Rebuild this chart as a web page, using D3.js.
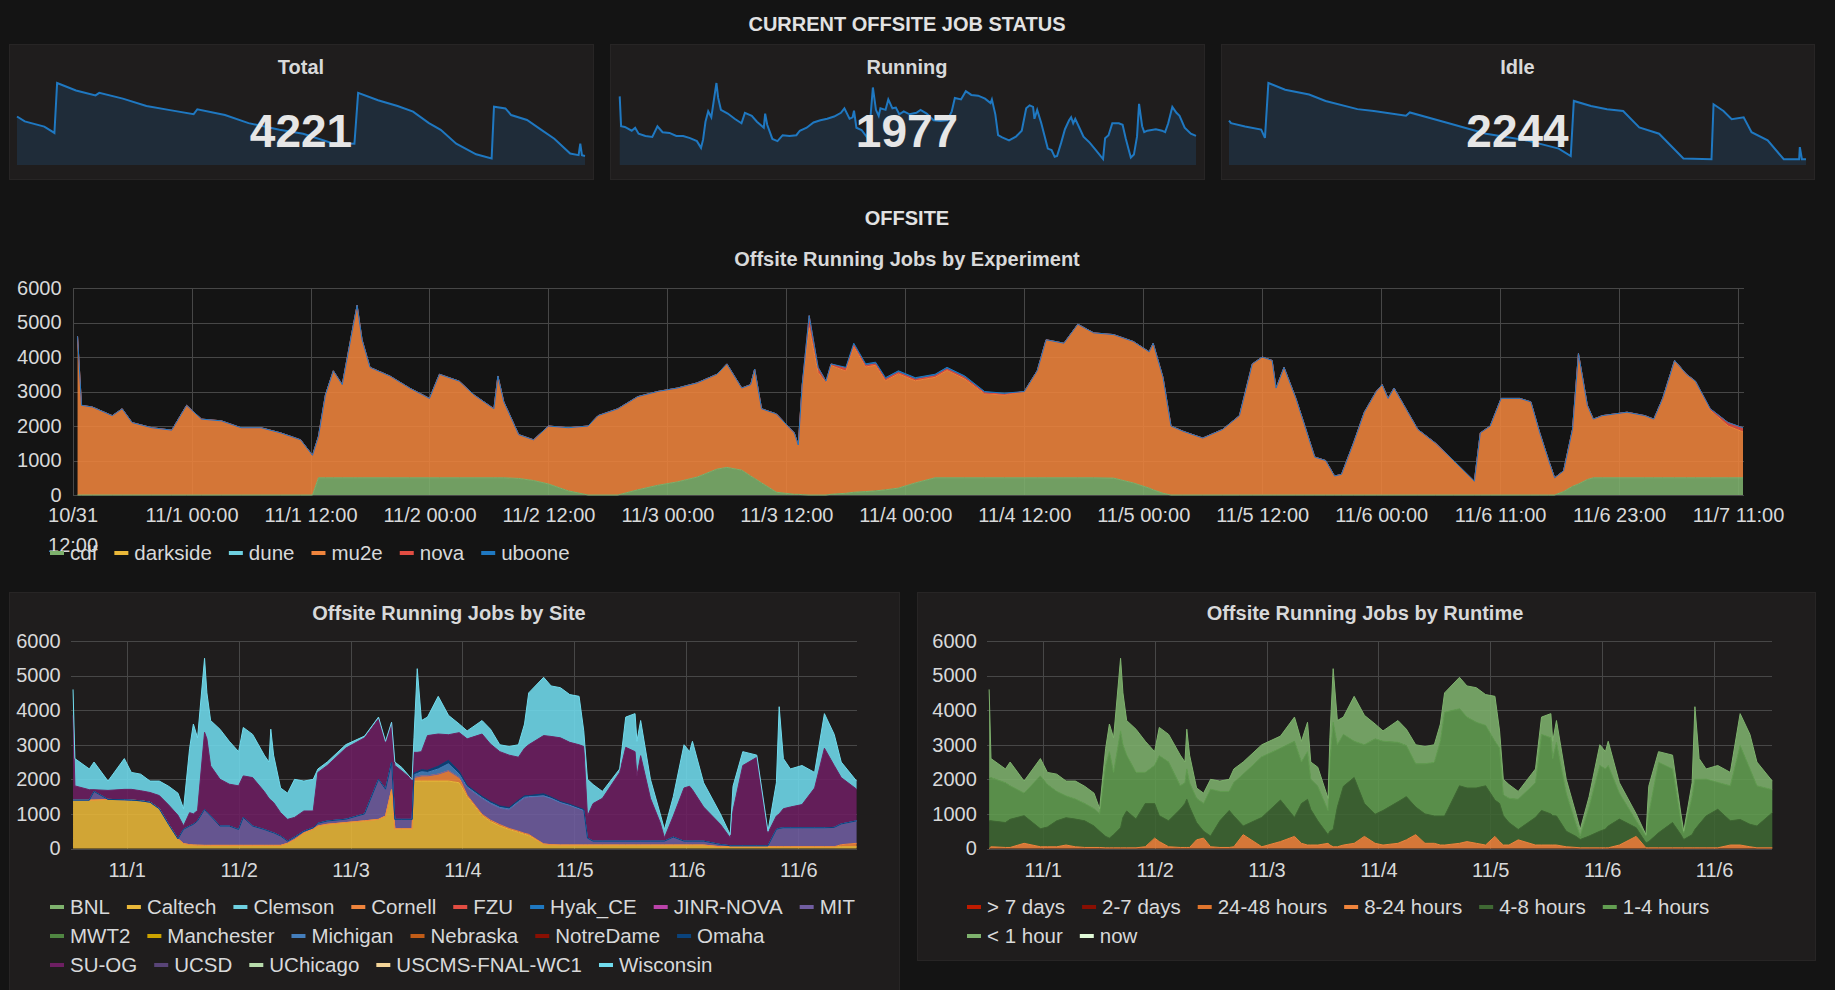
<!DOCTYPE html>
<html>
<head>
<meta charset="utf-8">
<script src="https://cdn.jsdelivr.net/npm/d3@7/dist/d3.min.js"></script>
<style>
html,body{margin:0;padding:0;background:#141414;overflow:hidden}
svg{display:block}
</style>
</head>
<body>
<svg id="chart" width="1835" height="990"></svg>
<script>
// ================= DATA =================
const statNames = ["Total", "Running", "Idle"];
const statValues = [4221, 1977, 2244];

const sparkTotalHours = [0,2.3,8.1,11.1,11.9,17.5,23.3,24.4,31.4,38.4,45.4,52.4,53.5,61.7,68.7,77.9,84.9,93.1,100.1,101.2,107.1,112.9,117.5,122.2,125.7,130.3,136.2,140.8,141.5,144.9,146.6,151.3,154.8,159.4,164.1,166.6,167.1,167.6,168.5];
const sparkTotal = [22700,20400,18000,15000,38400,34900,32600,33800,31100,27600,25700,23800,26100,23400,19600,16500,14600,10400,10000,33800,30300,27600,25000,19600,16500,10000,5000,3100,27300,26500,23400,21100,17300,12300,5400,4600,10000,4600,4221];
const sparkIdleHours = [0,0.6,4.7,9.4,10.5,11.5,16.4,23.4,28.2,37.5,42.3,51.7,52.8,63.4,75.1,86.9,96.3,99.8,100.7,105.7,110.4,115.1,119.8,125.6,132.7,140.9,141.5,144.4,146.8,150.3,152.6,157.3,162,166.5,166.7,167.3,168.5];
const sparkIdle = [17300,16300,15000,13800,10600,32000,29400,27500,25000,21800,21100,19200,20500,16600,12200,9600,6400,3500,25000,23000,21800,21100,14700,12200,2560,2250,23700,21100,17900,18600,12800,9600,2250,2250,7000,2250,2244];

const expTickHours = [0,12,24,36,48,60,72,84,96,108,120,132,144,156,168];
const expTickLabels = ["10/31 12:00","11/1 00:00","11/1 12:00","11/2 00:00","11/2 12:00","11/3 00:00","11/3 12:00","11/4 00:00","11/4 12:00","11/5 00:00","11/5 12:00","11/6 00:00","11/6 11:00","11/6 23:00","11/7 11:00"];
const bottomTickHours = [12,36,60,84,108,132,156];
const bottomTickLabels = ["11/1","11/2","11/3","11/4","11/5","11/6","11/6"];
const yTickValues = [0,1000,2000,3000,4000,5000,6000];

const experiments = ["cdf","darkside","dune","mu2e","nova","uboone"];
const expHours = [0.5,0.9,2,4,5,6,8,10,11.5,13,
 15,17,19,21,23,24.2,24.8,25.5,26.3,27.2,
 28.3,28.7,29.2,30,32,34,36,37,39,40.5,
 41.5,42.5,42.9,43.5,45,46.5,48,50,52,53,
 55,57,59,61,63,65,66,67.5,68.4,68.8,
 69.5,71,72.8,73.2,73.6,74.3,75.2,76,76.5,78,
 78.8,80,81,82,83.3,85,87,88.2,90,92,
 94,96,97.3,98.2,100,101.4,103,105,107,108.6,
 109,110,110.8,112,114,116,117.7,119,120,121,
 121.4,122.2,123.4,124.3,125.3,126.4,127.3,128,129.2,130.3,
 131.5,132.1,132.7,133.3,134.5,135.7,137.5,139.3,141.4,142,
 143,144.1,146,147.1,148,148.9,149.5,150.4,151.3,151.9,
 152.8,153.4,154.3,156.8,158.6,159.5,160.4,161.6,162.8,163.7,
 165.2,167,168.5];
const expCdf = [0,0,0,0,0,0,0,0,0,0,
 0,0,0,0,0,0,500,500,500,500,
 500,500,500,500,500,500,500,500,500,500,
 500,500,500,500,480,420,320,120,0,0,
 0,150,280,380,520,750,800,720,550,480,
 350,80,20,20,10,0,0,0,20,50,
 80,100,120,150,200,350,500,500,500,500,
 500,500,500,500,500,500,500,490,350,200,
 150,50,0,0,0,0,0,0,0,0,
 0,0,0,0,0,0,0,0,0,0,
 0,0,0,0,0,0,0,0,0,0,
 0,0,0,0,0,0,0,100,250,320,
 450,500,500,500,500,500,500,500,500,500,
 500,500,500];
const expMu2e = [4600,2600,2550,2300,2500,2100,1950,1880,2600,2200,
 2150,1950,1950,1800,1600,1150,1200,2400,3100,2700,
 4400,5000,4000,3200,2950,2600,2300,3000,2800,2400,
 2200,2000,2950,2200,1270,1180,1680,1830,2000,2300,
 2500,2700,2720,2720,2730,2750,3000,2380,2650,3170,
 2150,2270,1780,1430,3190,4850,3550,3250,3730,3540,
 4220,3610,3640,3160,3310,2960,2910,3110,2860,2430,
 2400,2500,3100,4000,3900,4450,4200,4160,4100,3950,
 4250,3350,2000,1850,1650,1900,2300,3800,4000,3900,
 3100,3700,2800,2000,1100,1000,550,600,1500,2400,
 3000,3200,2800,3100,2500,1900,1500,1000,400,1800,
 2000,2800,2800,2700,1800,1000,500,600,1650,3780,
 2150,1700,1800,1900,1800,1700,2300,3400,3000,2800,
 1950,1500,1330];
const expNova = [0,0,0,0,0,0,0,0,0,0,
 0,0,0,0,0,0,0,0,0,0,
 0,0,0,0,0,0,0,0,0,0,
 0,0,0,0,0,0,0,0,0,0,
 0,0,0,0,0,0,0,0,0,0,
 0,0,0,0,0,350,150,50,50,80,
 50,40,40,40,40,40,40,40,40,30,
 20,0,0,0,0,0,0,0,0,0,
 0,0,0,0,0,0,0,0,0,0,
 0,0,0,0,0,0,0,0,0,0,
 0,0,0,0,0,0,0,0,0,0,
 0,0,0,0,0,0,0,0,0,0,
 0,0,0,0,0,0,0,0,0,0,
 50,100,120];
const expUboone = [0,0,0,0,0,0,0,0,0,0,
 0,0,0,0,0,0,0,0,0,0,
 0,0,0,0,0,0,0,0,0,0,
 0,0,0,0,0,0,0,0,0,0,
 0,0,0,0,0,0,0,0,0,0,
 0,0,0,0,0,0,0,0,0,30,
 50,50,50,50,50,50,50,50,50,40,
 30,0,0,0,0,0,0,0,0,0,
 0,0,0,0,0,0,0,0,0,0,
 0,0,0,0,0,0,0,0,0,0,
 0,0,0,0,0,0,0,0,0,0,
 0,0,0,0,0,0,0,0,0,0,
 0,0,0,0,0,0,0,0,0,0,
 0,0,0];

const sites = ["BNL","Caltech","Clemson","Cornell","FZU","Hyak_CE","JINR-NOVA","MIT","MWT2","Manchester","Michigan","Nebraska","NotreDame","Omaha","SU-OG","UCSD","UChicago","USCMS-FNAL-WC1","Wisconsin"];
const bottomHours = [0.5,0.9,4,5,8,11.5,13,15,17,19,
 21,23,24.2,25.5,26.3,27.2,28.7,29.2,30,32,
 34,36,37,39,41.5,42.5,42.9,43.5,45,46.5,
 48,50,52,53,55,59,63,66,67.5,68.8,
 69.5,71,73.2,73.6,74.3,75.2,76.5,78.8,81,83.3,
 85,88.2,90,92,94,96,97.3,98.2,101.4,103,
 105,107,109,110,110.8,112,114,117.7,119,121,
 121.4,122.2,124.3,126.4,127.3,129.2,131.5,132.7,133.3,135.7,
 139.3,141.4,142,144.1,147.1,148.9,149.5,151.3,151.9,152.8,
 154.3,156.8,159.5,161.6,163.7,165.2,168.5];
const siteCaltech = [1400,1400,1400,1400,1420,1410,1400,1380,1340,1150,
 700,280,140,110,100,95,90,90,90,90,
 90,90,90,90,90,90,90,90,90,150,
 260,450,560,650,700,750,800,843,940,1700,
 570,570,570,1950,1950,1950,1950,1950,1950,1900,
 1500,950,780,650,550,470,410,380,130,110,
 100,100,100,100,100,100,100,100,100,100,
 100,100,100,100,100,100,100,100,100,100,
 50,50,50,50,50,50,50,50,50,50,
 50,50,50,50,50,50,50];
const siteCornell = [0,0,0,0,0,0,0,0,0,0,
 0,0,0,0,0,0,0,0,0,0,
 0,0,0,0,0,0,0,0,0,0,
 0,0,0,0,0,0,0,0,0,0,
 0,0,0,100,120,150,150,200,300,150,
 40,40,40,40,30,30,30,30,0,0,
 0,0,0,0,0,0,0,0,0,0,
 0,0,0,0,0,0,0,0,0,0,
 0,0,0,0,0,0,0,0,0,0,
 0,0,0,0,0,60,100];
const siteMIT = [0,0,0,250,0,0,0,0,0,0,
 0,0,415,540,600,705,1040,960,850,560,
 560,460,810,560,460,410,390,365,270,63,
 70,50,40,80,95,97,200,1157,775,790,
 273,273,273,0,0,0,0,0,0,0,
 215,450,470,470,535,830,1015,1070,1390,1340,
 1230,1150,1050,1000,200,113,113,113,113,113,
 113,113,113,113,113,230,113,113,113,113,
 66,30,30,30,30,30,30,502,530,550,
 550,550,550,550,560,600,650];
const siteMichigan = [0,0,0,0,0,0,0,0,0,0,
 0,0,0,0,0,0,0,0,0,0,
 0,0,0,0,0,0,0,0,0,0,
 0,0,0,0,0,0,0,0,0,0,
 0,0,0,80,100,120,100,150,200,100,
 30,30,30,30,30,30,30,20,0,0,
 0,0,0,0,0,0,0,0,0,0,
 0,0,0,0,0,0,0,0,0,0,
 0,0,0,0,0,0,0,0,0,0,
 0,0,0,0,0,0,0];
const siteOmaha = [0,0,0,0,0,0,0,0,0,0,
 0,0,0,0,0,0,0,0,0,0,
 0,0,0,0,0,0,0,0,0,0,
 0,0,0,0,0,0,0,0,0,0,
 0,0,0,50,50,60,60,80,100,80,
 40,40,40,40,40,40,40,30,60,40,
 30,30,30,30,0,0,0,0,0,0,
 0,0,0,0,0,0,0,0,0,0,
 0,0,0,0,0,0,0,0,0,0,
 0,0,0,0,0,0,0];
const siteSUOG = [2450,410,300,50,260,300,310,290,280,380,
 560,680,100,387,300,300,2230,2120,1450,1355,
 1210,1262,1200,1400,1100,950,920,875,677,630,
 570,585,485,1470,1605,2057,2200,1750,1335,1160,
 1557,1400,1150,600,560,520,1005,930,740,1120,
 1345,1800,1660,1570,1515,1240,1375,1470,1685,1750,
 1840,1790,1820,1820,640,1087,1237,1987,2712,2587,
 1887,2472,1237,533,97,610,1537,1587,1487,987,
 584,230,1020,2320,2555,920,370,388,420,550,
 600,670,1150,2300,1790,1340,915];
const siteWisconsin = [750,790,600,800,270,890,490,480,330,420,
 540,640,495,1863,2600,2100,2140,1330,1310,1445,
 1240,988,1400,1250,1050,1050,2050,1370,713,757,
 1100,865,915,100,100,100,50,50,50,0,
 100,100,0,420,2420,900,535,1090,560,250,
 230,390,430,200,250,360,700,1500,1685,1460,
 1450,1380,1400,450,1060,550,200,100,875,1100,
 1000,1015,550,254,240,560,1250,1000,1400,700,
 300,90,700,400,65,50,50,960,3100,1450,
 1100,1130,450,1000,900,450,235];

const runtimes = ["> 7 days","2-7 days","24-48 hours","8-24 hours","4-8 hours","1-4 hours","< 1 hour","now"];
const run8to24h = [0,50,30,30,150,50,50,50,100,50,
 30,30,30,20,20,20,20,20,20,20,
 50,300,200,50,30,30,30,30,250,300,
 50,30,30,50,400,50,200,350,150,100,
 100,100,150,100,50,50,100,150,350,150,
 100,150,250,400,150,150,100,100,150,200,
 150,100,350,200,100,100,250,100,100,100,
 100,100,50,30,20,20,20,20,20,100,
 350,20,20,20,20,20,20,20,20,20,
 20,20,100,100,50,20,20];
const run4to8h = [800,750,720,813,800,520,570,750,790,800,
 770,620,470,330,280,380,580,880,1065,830,
 1250,1000,750,750,1104,1270,1395,1170,500,200,
 310,770,1070,890,250,850,1200,550,1150,1320,
 1030,700,250,400,500,1150,1700,1900,950,840,
 1000,1200,1250,800,850,790,840,840,1662,1550,
 1600,1712,1050,1100,850,650,300,800,1000,900,
 850,840,450,320,240,340,480,540,630,750,
 250,145,180,435,730,380,240,380,530,680,
 920,1114,700,740,650,630,1017];
const run1to4h = [1250,1250,1150,969,650,1530,1230,850,630,580,
 500,500,500,2050,2500,1800,2800,2100,1615,1350,
 900,1100,1735,1700,678,600,875,700,700,800,
 1355,850,550,970,1500,1750,1500,2200,1200,1380,
 870,1000,700,2000,3100,1800,1500,1050,1700,2180,
 2000,1720,1475,1250,1450,1550,2160,3000,2228,2050,
 1900,1748,1700,1600,600,700,875,1000,2200,2200,
 1650,2130,1100,350,100,840,1900,1740,1750,750,
 200,195,800,2035,1550,400,195,1100,1450,1300,
 1065,776,1012,2135,1600,1162,663];
const runUnder1h = [2550,550,400,688,350,500,350,500,430,520,
 500,450,150,500,800,1000,2100,1500,1000,1250,
 900,400,815,800,888,600,1150,800,300,300,
 285,300,350,390,350,350,350,700,600,850,
 500,550,350,700,1550,700,500,1300,850,430,
 300,630,475,550,500,510,500,560,910,900,
 1000,890,1300,500,450,400,225,400,500,700,
 500,630,400,300,190,300,600,500,700,300,
 200,40,800,310,400,200,45,400,2100,600,
 295,490,388,925,1000,688,250];

// ================= STYLE =================
const FONT = '"Liberation Sans", Arial, Helvetica, sans-serif';
const TXT = "#d8d9da";
const GRID = "#474747";
const PANEL = "#1f1d1d";
const expColors = {cdf:"#7EB26D", darkside:"#EAB839", dune:"#6ED0E0", mu2e:"#EF843C", nova:"#E24D42", uboone:"#1F78C1"};
const siteColors = ["#7EB26D","#EAB839","#6ED0E0","#EF843C","#E24D42","#1F78C1","#BA43A9","#705DA0","#508642","#CCA300","#447EBC","#C15C17","#890F02","#0A437C","#6D1F62","#584477","#B7DBAB","#F4D598","#70DBED"];
const runtimeColors = ["#BF1B00","#890F02","#E0752D","#EF843C","#3F6833","#629E51","#7EB26D","#E0F9D7"];

const svg = d3.select("#chart").attr("font-family", FONT);
svg.append("rect").attr("width",1835).attr("height",990).attr("fill","#141414");

function txt(x, y, s, size, weight, anchor, fill) {
  return svg.append("text").attr("x",x).attr("y",y).attr("font-size",size)
    .attr("font-weight",weight||"normal").attr("text-anchor",anchor||"start")
    .attr("fill",fill||TXT).text(s);
}
function panel(x, y, w, h) {
  svg.append("rect").attr("x",x+0.5).attr("y",y+0.5).attr("width",w).attr("height",h)
    .attr("fill",PANEL).attr("stroke","#272525").attr("stroke-width",1);
}
function styleAxis(g) {
  g.attr("font-family", FONT).attr("font-size", 20);
  g.select(".domain").remove();
  g.selectAll(".tick line").attr("stroke", GRID).attr("stroke-width",1).attr("shape-rendering","crispEdges");
  g.selectAll(".tick text").attr("fill", TXT);
}
function legend(names, colors, x0, y0, maxX, rowH) {
  let x = x0, y = y0;
  names.forEach((n, i) => {
    const t = svg.append("text").attr("font-size",20.5).attr("fill",TXT).text(n);
    const w = t.node().getComputedTextLength();
    if (x + 20 + w > maxX && x > x0) { x = x0; y += rowH; }
    svg.append("rect").attr("x",x).attr("y",y-9).attr("width",14).attr("height",4).attr("fill",colors[i]);
    t.attr("x", x + 20).attr("y", y);
    x += 20 + w + 17;
  });
}
function stackedChart(cfg) {
  const x = d3.scaleLinear().domain([0, cfg.domainMax]).range(cfg.xRange);
  const y = d3.scaleLinear().domain([0, 6000]).range(cfg.yRange);
  const g = svg.append("g");
  const gy = g.append("g").attr("transform", `translate(${cfg.xRange[0]},0)`)
    .call(d3.axisLeft(y).tickValues(yTickValues).tickSize(-(cfg.xRange[1]-cfg.xRange[0]))
      .tickPadding(cfg.yPad).tickFormat(d3.format("d")));
  styleAxis(gy);
  const gx = g.append("g").attr("transform", `translate(0,${cfg.yRange[0]})`)
    .call(d3.axisBottom(x).tickValues(cfg.tickHours).tickSize(-(cfg.yRange[0]-cfg.yRange[1]))
      .tickPadding(cfg.xPad).tickFormat((d, i) => cfg.tickLabels[i]));
  styleAxis(gx);
  const rows = cfg.hours.map((h, i) => { const r = {h}; cfg.layers.forEach(l => r[l.name] = l.values[i]); return r; });
  const st = d3.stack().keys(cfg.layers.map(l => l.name))(rows);
  const area = d3.area().x(d => x(d.data.h)).y0(d => y(d[0])).y1(d => y(d[1]));
  const line = d3.line().x(d => x(d.data.h)).y(d => y(d[1]));
  st.forEach((s, i) => g.append("path").attr("d", area(s)).attr("fill", cfg.layers[i].color).attr("fill-opacity", cfg.fillOpacity));
  st.forEach((s, i) => g.append("path").attr("d", line(s)).attr("fill","none").attr("stroke", cfg.layers[i].color).attr("stroke-width",1));
  return gx;
}

// ================= HEADER + STAT PANELS =================
txt(907, 31, "CURRENT OFFSITE JOB STATUS", 20, "bold", "middle", "#e2e2e2");

const runningTotals = expHours.map((h, i) => expCdf[i] + expMu2e[i] + expNova[i] + expUboone[i]);
const sparkSeries = [
  {hours: sparkTotalHours, values: sparkTotal},
  {hours: expHours, values: runningTotals},
  {hours: sparkIdleHours, values: sparkIdle}
];
const statBoxes = [{x:9, w:584}, {x:610, w:594}, {x:1221, w:593}];
statBoxes.forEach((b, k) => {
  panel(b.x, 44, b.w, 135);
  const sp = sparkSeries[k];
  const sx = d3.scaleLinear().domain([0, 168.5]).range([b.x + 8, b.x + b.w - 8]);
  const sy = d3.scaleLinear().domain([0, d3.max(sp.values)]).range([165, 83]);
  const pts = sp.hours.map((h, i) => [h, sp.values[i]]);
  svg.append("path").attr("d", d3.area().x(d => sx(d[0])).y0(165).y1(d => sy(d[1]))(pts))
    .attr("fill", "rgba(31,118,189,0.18)");
  svg.append("path").attr("d", d3.line().x(d => sx(d[0])).y(d => sy(d[1]))(pts))
    .attr("fill","none").attr("stroke","#1F78C1").attr("stroke-width",2);
  txt(b.x + b.w/2, 74, statNames[k], 20, "bold", "middle");
  txt(b.x + b.w/2, 147, String(statValues[k]), 46, "bold", "middle", "#e6e6e6");
});

// ================= OFFSITE / EXPERIMENT =================
txt(907, 225, "OFFSITE", 20, "bold", "middle", "#e2e2e2");
txt(907, 266, "Offsite Running Jobs by Experiment", 20, "bold", "middle");

const gxExp = stackedChart({
  hours: expHours,
  layers: [
    {name:"cdf", values: expCdf, color: expColors.cdf},
    {name:"mu2e", values: expMu2e, color: expColors.mu2e},
    {name:"nova", values: expNova, color: expColors.nova},
    {name:"uboone", values: expUboone, color: expColors.uboone}
  ],
  xRange: [72.6, 1744], yRange: [495, 288], domainMax: 168.6,
  tickHours: expTickHours, tickLabels: expTickLabels, yPad: 11, xPad: 13, fillOpacity: 0.88
});
gxExp.selectAll(".tick text").filter((d, i) => i === 0).each(function() {
  const t = d3.select(this);
  const parts = t.text().split(" ");
  t.text(null);
  t.append("tspan").attr("x", 0).text(parts[0]);
  t.append("tspan").attr("x", 0).attr("dy", "1.5em").text(parts[1]);
});
legend(experiments, experiments.map(e => expColors[e]), 50, 560, 1700, 29);

// ================= SITE PANEL =================
panel(9, 592, 890, 400);
txt(449, 620, "Offsite Running Jobs by Site", 20, "bold", "middle");
stackedChart({
  hours: bottomHours,
  layers: [
    {name:"Caltech", values: siteCaltech, color: siteColors[1]},
    {name:"Cornell", values: siteCornell, color: siteColors[3]},
    {name:"MIT", values: siteMIT, color: siteColors[7]},
    {name:"Michigan", values: siteMichigan, color: siteColors[10]},
    {name:"Omaha", values: siteOmaha, color: siteColors[13]},
    {name:"SU-OG", values: siteSUOG, color: siteColors[14]},
    {name:"Wisconsin", values: siteWisconsin, color: siteColors[18]}
  ],
  xRange: [70.7, 856.6], yRange: [848.5, 641], domainMax: 168.5,
  tickHours: bottomTickHours, tickLabels: bottomTickLabels, yPad: 10, xPad: 14, fillOpacity: 0.88
});
legend(sites, siteColors, 50, 914, 866, 29);

// ================= RUNTIME PANEL =================
panel(917, 592, 898, 368);
txt(1365, 620, "Offsite Running Jobs by Runtime", 20, "bold", "middle");
stackedChart({
  hours: bottomHours,
  layers: [
    {name:"8-24 hours", values: run8to24h, color: runtimeColors[3]},
    {name:"4-8 hours", values: run4to8h, color: runtimeColors[4]},
    {name:"1-4 hours", values: run1to4h, color: runtimeColors[5]},
    {name:"< 1 hour", values: runUnder1h, color: runtimeColors[6]}
  ],
  xRange: [986.8, 1772.3], yRange: [848.5, 641], domainMax: 168.5,
  tickHours: bottomTickHours, tickLabels: bottomTickLabels, yPad: 10, xPad: 14, fillOpacity: 0.88
});
legend(runtimes, runtimeColors, 967, 914, 1790, 29);
</script>
</body>
</html>
